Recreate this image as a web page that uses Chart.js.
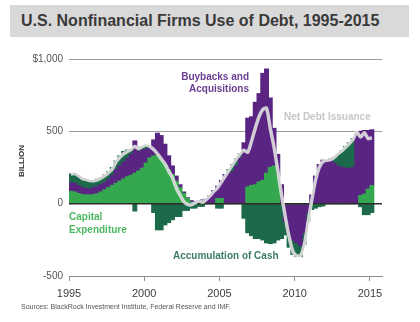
<!DOCTYPE html>
<html>
<head>
<meta charset="utf-8">
<script src="https://cdn.jsdelivr.net/npm/chart.js@4/dist/chart.umd.min.js"></script>
<style>
  body { margin: 0; background: #fff; }
  #wrap { position: relative; width: 420px; height: 322px; overflow: hidden;
          font-family: "Liberation Sans", Arial, sans-serif; }
  #chart { position: absolute; left: 0; top: 0; }
  .titulo { position: absolute; left: 10px; top: 5px; width: 388px; height: 32px;
            padding-left: 11px; background: #d9d9d9; color: #3a3a3a;
            font-weight: bold; font-size: 16px; line-height: 32px; white-space: nowrap; }
  .nota { position: absolute; font-weight: bold; font-size: 10px; line-height: 12px; white-space: nowrap; }
  .unidad { position: absolute; left: 4px; top: 156px; width: 36px; text-align: center;
            font-weight: bold; font-size: 8px; line-height: 10px; color: #333;
            transform: rotate(-90deg); }
  .fuente { position: absolute; left: 21px; top: 302px; font-size: 7px; line-height: 10px; color: #555; white-space: nowrap; }
</style>
</head>
<body>
<div id="wrap">
  <canvas id="chart" width="420" height="322"></canvas>
  <div class="titulo">U.S. Nonfinancial Firms Use of Debt, 1995-2015</div>
  <div class="unidad">BILLION</div>
  <div class="nota" style="right:171px; top:71px; text-align:right; color:#6b3f91;">Buybacks and<br>Acquisitions</div>
  <div class="nota" style="left:284px; top:111px; color:#c6c6c6;">Net Debt Issuance</div>
  <div class="nota" style="left:69px; top:210px; line-height:13px; color:#4cb862;">Capital<br>Expenditure</div>
  <div class="nota" style="left:173px; top:250px; color:#3b7d62;">Accumulation of Cash</div>
  <div class="fuente">Sources: BlackRock Investment Institute, Federal Reserve and IMF.</div>
</div>
<script>
// ─────────────────────────────────────────────────────────────────────────────
// DATOS — trimestrales, 1995 T1 a 2015 T1 (miles de millones $)
// ─────────────────────────────────────────────────────────────────────────────
const ANIO_INICIO = 1995;

// Capital Expenditure (verde claro)
const capex = [
    85, 80, 70, 62,      60, 60, 62, 68,      80, 95, 110, 125,    140, 155, 170, 185,
    195, 210, 225, 245,  280, 315, 330, 333,  300, 270, 232, 200,  155, 110, 70, 35,
    10, 0, 0, 0,         0, 0, 0, 35,         35, 0, 0, 0,         0, 0, 0, 115,
    125, 130, 150, 160,  210, 250, 260, 200,  0, 0, 0, 0,          0, 0, 0, 0,
    0, 0, 0, 0,          0, 0, 0, 0,          0, 0, 0, 0,          0, 55, 65, 100,
    125
];

// Buybacks and Acquisitions (morado)
const recompras = [
    58, 60, 55, 48,      45, 40, 48, 52,      50, 50, 55, 70,      95, 105, 115, 125,
    145, 223, 135, 125,  95, 70, 110, 153,    170, 140, 98, 60,    35, 20, 10, 5,
    10, 15, 20, 25,      30, 55, 90, 85,      125, 200, 205, 220,  260, 315, 420, 475,
    475, 570, 610, 740,  720, 480, 260, 140,  130, -125, -200, -250, -270, -290, -200, -60,
    60, 190, 270, 300,   290, 300, 280, 260,  250, 245, 240, 250,  480, 445, 440, 405,
    385
];

// Accumulation of Cash (verde oscuro)
const caja = [
    62, 65, 65, 60,      60, 60, 50, 50,      50, 55, 55, 55,      60, 70, 75, 60,
    35, -50, 30, 20,     20, 10, -60, -180,   -180, -146, -130, -110, -88, -88, -46, -46,
    -30, -30, -18, -18,  0, 0, 0, -30,        -30, 0, 30, 50,      50, 30, -100, -200,
    -220, -240, -240, -250, -270, -275, -270, -250, -240, -90, -100, -100, -95, -75, -80, -60,
    -40, -30, -20, -15,  10, 10, 40, 80,      115, 150, 180, 200,  0, -20, -75, -75,
    -60
];

// Net Debt Issuance (línea)
const deudaNeta = [
    205, 208, 195, 175,  168, 160, 158, 165,  178, 195, 215, 240,  290, 320, 345, 360,
    375, 395, 380, 395,  405, 395, 375, 345,  310, 275, 225, 180,  110, 60, 15, -5,
    -8, 5, 18, 10,       30, 55, 85, 110,     150, 190, 230, 270,  310, 345, 370, 355,
    430, 520, 600, 650,  660, 520, 390, 230,  60, -90, -230, -330, -360, -360, -290, -140,
    20, 160, 250, 290,   300, 305, 320, 345,  365, 390, 415, 445,  495, 460, 490, 450,
    455
];

// Ejes
const aniosEje   = [1995, 2000, 2005, 2010, 2015];
const valoresEje = [-500, 0, 500, 1000];
const textosEje  = ['-500', '0', '500', '$1,000'];

// centro de cada trimestre en años decimales
const trimestres = capex.map(function (_, i) { return ANIO_INICIO + i / 4 + 0.125; });

function serie(valores) {
    return valores.map(function (v, i) { return { x: trimestres[i], y: v }; });
}

// ─────────────────────────────────────────────────────────────────────────────
// PLUGIN — línea del cero por encima de las barras
// ─────────────────────────────────────────────────────────────────────────────
const lineaCero = {
    id: 'lineaCero',
    beforeDatasetDraw: function (chart, args) {
        if (args.index !== 0) return;
        const ctx = chart.ctx;
        const y = chart.scales.y.getPixelForValue(0);
        ctx.save();
        ctx.strokeStyle = '#2b2b2b';
        ctx.lineWidth = 1.5;
        ctx.beginPath();
        ctx.moveTo(chart.chartArea.left, y);
        ctx.lineTo(chart.chartArea.right, y);
        ctx.stroke();
        ctx.restore();
    }
};

const fuente = '"Liberation Sans", Arial, sans-serif';

new Chart(document.getElementById('chart'), {
    type: 'bar',
    data: {
        datasets: [
            { type: 'line', label: 'halo', data: serie(deudaNeta), stack: 'l1', order: -1,
              borderColor: 'rgba(255,255,255,0.75)', borderWidth: 3.5, pointRadius: 0, tension: 0.25 },
            { type: 'line', label: 'Net Debt Issuance', data: serie(deudaNeta), stack: 'l2', order: -2,
              borderColor: '#d0d0d0', borderWidth: 1.8, pointRadius: 0, tension: 0.25 },
            { label: 'Capital Expenditure', data: serie(capex), backgroundColor: '#35a84f' },
            { label: 'Buybacks and Acquisitions', data: serie(recompras), backgroundColor: '#5a2483' },
            { label: 'Accumulation of Cash', data: serie(caja), backgroundColor: '#1d6a4b' }
        ]
    },
    options: {
        responsive: false,
        animation: false,
        devicePixelRatio: 1,
        layout: { padding: { left: 9, right: 38, top: 59, bottom: 22 } },
        datasets: {
            bar: { barPercentage: 1, categoryPercentage: 1, borderWidth: 0, inflateAmount: 0.6 }
        },
        plugins: {
            legend: { display: false },
            tooltip: { enabled: false }
        },
        scales: {
            x: {
                type: 'linear',
                stacked: true,
                offset: false,
                min: 1995,
                max: 2015.8,
                afterBuildTicks: function (scale) {
                    scale.ticks = aniosEje.map(function (v) { return { value: v }; });
                },
                afterFit: function (scale) { scale.height = 24; },
                border: { display: true, color: '#8c8c8c', width: 1 },
                grid: { offset: false, drawOnChartArea: false, drawTicks: true, tickLength: 5, color: '#8c8c8c' },
                ticks: {
                    padding: 6,
                    color: '#3d3d3d',
                    font: { family: fuente, size: 11 },
                    maxRotation: 0,
                    callback: function (v) { return String(v); }
                }
            },
            y: {
                stacked: true,
                min: -500,
                max: 1000,
                afterBuildTicks: function (scale) {
                    scale.ticks = valoresEje.map(function (v) { return { value: v }; });
                },
                afterFit: function (scale) { scale.width = 60; },
                border: { display: false },
                grid: {
                    drawTicks: false,
                    color: function (c) {
                        const v = c.tick ? c.tick.value : null;
                        return (v === 500 || v === 1000) ? '#9a9a9a' : 'rgba(0,0,0,0)';
                    }
                },
                ticks: {
                    padding: 6,
                    color: '#555',
                    font: { family: fuente, size: 10 },
                    callback: function (v) {
                        const i = valoresEje.indexOf(v);
                        return i >= 0 ? textosEje[i] : '';
                    }
                }
            }
        }
    },
    plugins: [lineaCero]
});
</script>
</body>
</html>
